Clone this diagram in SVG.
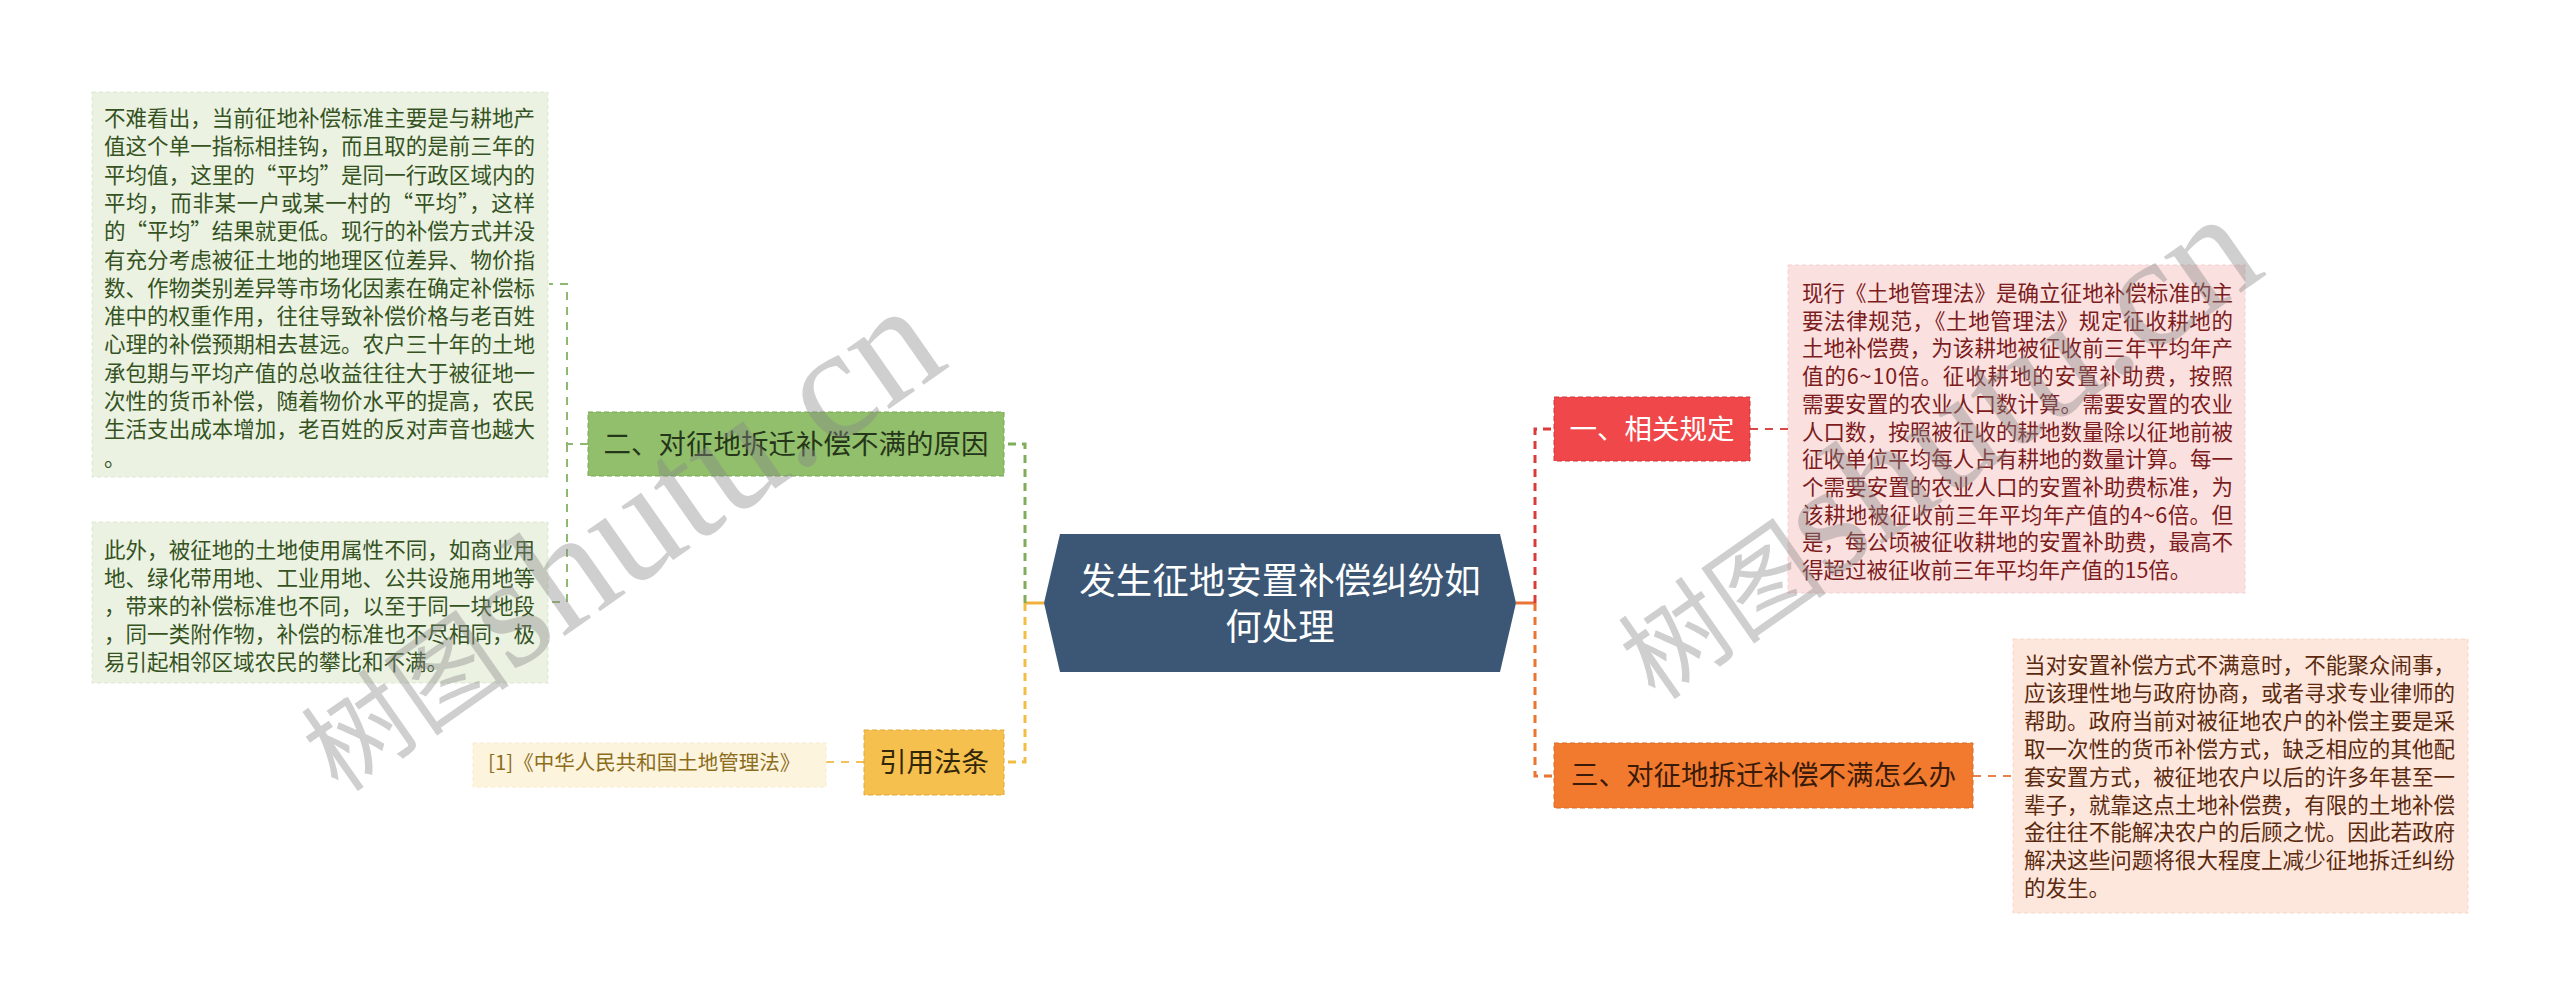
<svg xmlns="http://www.w3.org/2000/svg" width="2560" height="1005" viewBox="0 0 2560 1005">
<style>
  text { font-family: "Noto Sans CJK SC", "Noto Sans", sans-serif; }
  .leaf { font-size: 21.5px; }
  .lg { fill: #35521f; }
  .lr { fill: #7c1c1c; }
  .lo { fill: #5b2a0e; }
  .lbl { font-size: 27.5px; text-anchor: middle; }
  .conn { fill: none; stroke-width: 3; stroke-dasharray: 8 6; }
  .sub { fill: none; stroke-width: 2; stroke-dasharray: 8 7; }
  .wm { fill: #888888; opacity: 0.4; }
</style>

<g id="connectors">
  <!-- left side -->
  <line x1="1025" y1="603" x2="1044" y2="603" stroke="#f0b03c" stroke-width="3"/>
  <path class="conn" stroke="#7fae5b" d="M1025,603 V444 H1004"/>
  <path class="conn" stroke="#f2bd45" d="M1025,603 V762 H1004"/>
  <path class="sub" stroke="#8fb870" d="M588,444 H567 V284 H549"/>
  <path class="sub" stroke="#8fb870" d="M567,444 V602 H549"/>
  <path class="sub" stroke="#f2c25a" d="M864,762 H826"/>
  <!-- right side -->
  <line x1="1516" y1="603" x2="1535" y2="603" stroke="#e8743a" stroke-width="3"/>
  <path class="conn" stroke="#d93a3a" d="M1535,603 V429 H1554"/>
  <path class="conn" stroke="#e87530" d="M1535,603 V776 H1554"/>
  <path class="sub" stroke="#d94848" d="M1750,429 H1788"/>
  <path class="sub" stroke="#e8814a" d="M1973,776 H2013"/>
</g>

<g id="leaf-green-1">
  <rect x="92" y="92" width="456" height="385" fill="#ebf2e2" stroke="#dde8d0" stroke-dasharray="4 3"/>
  <text class="leaf lg">
    <tspan x="104" y="126" textLength="431">不难看出，当前征地补偿标准主要是与耕地产</tspan>
    <tspan x="104" y="154.3" textLength="431">值这个单一指标相挂钩，而且取的是前三年的</tspan>
    <tspan x="104" y="182.6" textLength="431">平均值，这里的“平均”是同一行政区域内的</tspan>
    <tspan x="104" y="210.9" textLength="431">平均，而非某一户或某一村的“平均”，这样</tspan>
    <tspan x="104" y="239.2" textLength="431">的“平均”结果就更低。现行的补偿方式并没</tspan>
    <tspan x="104" y="267.5" textLength="431">有充分考虑被征土地的地理区位差异、物价指</tspan>
    <tspan x="104" y="295.8" textLength="431">数、作物类别差异等市场化因素在确定补偿标</tspan>
    <tspan x="104" y="324.1" textLength="431">准中的权重作用，往往导致补偿价格与老百姓</tspan>
    <tspan x="104" y="352.4" textLength="431">心理的补偿预期相去甚远。农户三十年的土地</tspan>
    <tspan x="104" y="380.7" textLength="431">承包期与平均产值的总收益往往大于被征地一</tspan>
    <tspan x="104" y="409" textLength="431">次性的货币补偿，随着物价水平的提高，农民</tspan>
    <tspan x="104" y="437.3" textLength="431">生活支出成本增加，老百姓的反对声音也越大</tspan>
    <tspan x="104" y="465.6">。</tspan>
  </text>
</g>

<g id="leaf-green-2">
  <rect x="92" y="522" width="456" height="161" fill="#ebf2e2" stroke="#dde8d0" stroke-dasharray="4 3"/>
  <text class="leaf lg">
    <tspan x="104" y="558" textLength="431">此外，被征地的土地使用属性不同，如商业用</tspan>
    <tspan x="104" y="586" textLength="431">地、绿化带用地、工业用地、公共设施用地等</tspan>
    <tspan x="104" y="614" textLength="431">，带来的补偿标准也不同，以至于同一块地段</tspan>
    <tspan x="104" y="642" textLength="431">，同一类附作物，补偿的标准也不尽相同，极</tspan>
    <tspan x="104" y="670">易引起相邻区域农民的攀比和不满。</tspan>
  </text>
</g>

<g id="node-reason">
  <rect x="588" y="412" width="416" height="64" fill="#92bf6c" stroke="#76a650" stroke-dasharray="5 3"/>
  <text class="lbl" x="796" y="454" fill="#26361a">二、对征地拆迁补偿不满的原因</text>
</g>

<g id="leaf-law">
  <rect x="473" y="743" width="353" height="44" fill="#fdf4de" stroke="#f8ebcc" stroke-dasharray="4 3"/>
  <text x="488" y="770" font-size="20.5" fill="#8c6d1c">[1]《中华人民共和国土地管理法》</text>
</g>

<g id="node-law">
  <rect x="864" y="730" width="140" height="65" fill="#f6c04e" stroke="#dfa83a" stroke-dasharray="5 3"/>
  <text class="lbl" x="934" y="772" fill="#33270a">引用法条</text>
</g>

<g id="node-center">
  <polygon points="1060,534 1500,534 1516,603 1500,672 1060,672 1044,603" fill="#3b5775"/>
  <text x="1280" y="594" font-size="36.5" fill="#ffffff" text-anchor="middle">发生征地安置补偿纠纷如</text>
  <text x="1280" y="640" font-size="36.5" fill="#ffffff" text-anchor="middle">何处理</text>
</g>

<g id="node-rules">
  <rect x="1554" y="397" width="196" height="64" fill="#f0484a" stroke="#d03838" stroke-dasharray="5 3"/>
  <text class="lbl" x="1652" y="439" fill="#ffffff">一、相关规定</text>
</g>

<g id="leaf-rules">
  <rect x="1788" y="265" width="457" height="328" fill="#fbe0e0" stroke="#f5d0d0" stroke-dasharray="4 3"/>
  <text class="leaf lr">
    <tspan x="1802" y="301" textLength="431">现行《土地管理法》是确立征地补偿标准的主</tspan>
    <tspan x="1802" y="328.7" textLength="431">要法律规范，《土地管理法》规定征收耕地的</tspan>
    <tspan x="1802" y="356.4" textLength="431">土地补偿费，为该耕地被征收前三年平均年产</tspan>
    <tspan x="1802" y="384.1" textLength="431">值的6~10倍。征收耕地的安置补助费，按照</tspan>
    <tspan x="1802" y="411.8" textLength="431">需要安置的农业人口数计算。需要安置的农业</tspan>
    <tspan x="1802" y="439.5" textLength="431">人口数，按照被征收的耕地数量除以征地前被</tspan>
    <tspan x="1802" y="467.2" textLength="431">征收单位平均每人占有耕地的数量计算。每一</tspan>
    <tspan x="1802" y="494.9" textLength="431">个需要安置的农业人口的安置补助费标准，为</tspan>
    <tspan x="1802" y="522.6" textLength="431">该耕地被征收前三年平均年产值的4~6倍。但</tspan>
    <tspan x="1802" y="550.3" textLength="431">是，每公顷被征收耕地的安置补助费，最高不</tspan>
    <tspan x="1802" y="578">得超过被征收前三年平均年产值的15倍。</tspan>
  </text>
</g>

<g id="node-howto">
  <rect x="1554" y="743" width="419" height="65" fill="#f27a2e" stroke="#d86a26" stroke-dasharray="5 3"/>
  <text class="lbl" x="1763.5" y="785" fill="#3a1a08">三、对征地拆迁补偿不满怎么办</text>
</g>

<g id="leaf-howto">
  <rect x="2013" y="639" width="455" height="274" fill="#fde6dc" stroke="#f8d8c8" stroke-dasharray="4 3"/>
  <text class="leaf lo">
    <tspan x="2024" y="673" textLength="431">当对安置补偿方式不满意时，不能聚众闹事，</tspan>
    <tspan x="2024" y="700.9" textLength="431">应该理性地与政府协商，或者寻求专业律师的</tspan>
    <tspan x="2024" y="728.8" textLength="431">帮助。政府当前对被征地农户的补偿主要是采</tspan>
    <tspan x="2024" y="756.7" textLength="431">取一次性的货币补偿方式，缺乏相应的其他配</tspan>
    <tspan x="2024" y="784.6" textLength="431">套安置方式，被征地农户以后的许多年甚至一</tspan>
    <tspan x="2024" y="812.5" textLength="431">辈子，就靠这点土地补偿费，有限的土地补偿</tspan>
    <tspan x="2024" y="840.4" textLength="431">金往往不能解决农户的后顾之忧。因此若政府</tspan>
    <tspan x="2024" y="868.3" textLength="431">解决这些问题将很大程度上减少征地拆迁纠纷</tspan>
    <tspan x="2024" y="896.2">的发生。</tspan>
  </text>
</g>

<g id="watermark">
  <text class="wm" transform="translate(339,794) rotate(-35)"><tspan font-size="105">树图</tspan><tspan font-family="Liberation Serif, serif" font-size="160">shutu.cn</tspan></text>
  <text class="wm" transform="translate(1656,702) rotate(-35)"><tspan font-size="105">树图</tspan><tspan font-family="Liberation Serif, serif" font-size="160">shutu.cn</tspan></text>
</g>
</svg>
